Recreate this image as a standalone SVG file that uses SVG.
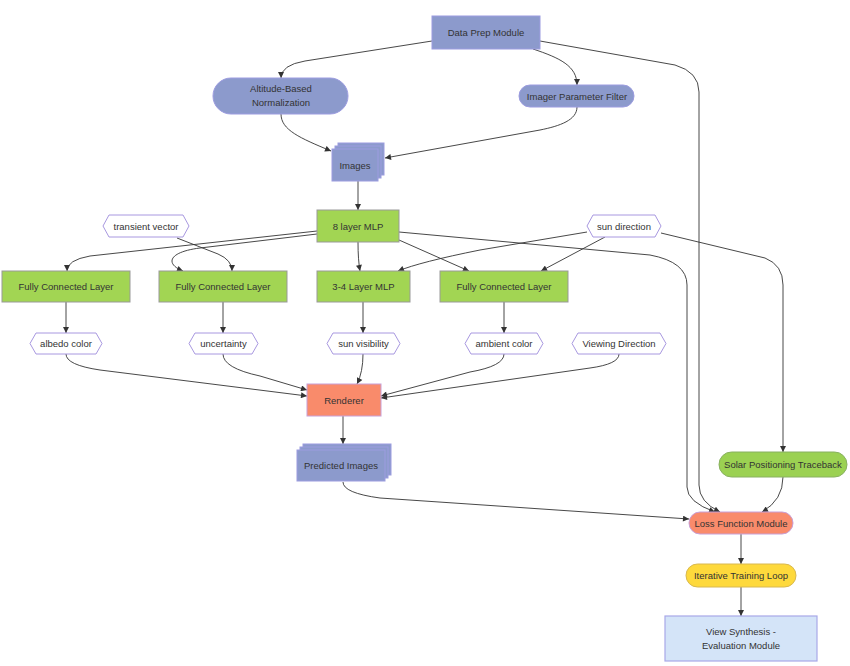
<svg xmlns="http://www.w3.org/2000/svg" width="850" height="666" viewBox="0 0 850 666">
<defs>
<style>
text{font-family:"Liberation Sans","DejaVu Sans",Arial,sans-serif;font-size:9.5px;fill:#333;text-anchor:middle}
.blue{fill:#8c9acc;stroke:#9c9ce0;stroke-width:1}
.green{fill:#a2d553;stroke:#999;stroke-width:1}
.hex{fill:#fff;stroke:#a898e0;stroke-width:1}
.orange{fill:#f98b6b;stroke:#c8a0d8;stroke-width:1}
.lgreen{fill:#9bd152;stroke:#88b060;stroke-width:1}
.yellow{fill:#fed93c;stroke:#d8b850;stroke-width:1}
.lblue{fill:#d4e4f8;stroke:#a8a8e8;stroke-width:1.2}
.e{fill:none;stroke:#333;stroke-width:0.9;marker-end:url(#arr)}
</style>
<marker id="arr" viewBox="0 0 10 10" refX="10" refY="5" markerWidth="7" markerHeight="6" markerUnits="userSpaceOnUse" orient="auto">
<path d="M0,0 L10,5 L0,10 z" fill="#333"/>
</marker>
</defs>
<rect width="850" height="666" fill="#fff"/>
<g id="edges">
<path class="e" d="M432,41 L305,61 Q281,65 281,78"/>
<path class="e" d="M533,49 C560,58 577,66 577,85"/>
<path class="e" d="M540,41 L675,65 Q699,72 699,92 L699,485 Q699,502 720,512"/>
<path class="e" d="M281,114 C281,130 300,138 331,151"/>
<path class="e" d="M577,107 C577,120 560,126 540,130 L385,158"/>
<path class="e" d="M358,181 L358,210"/>
<path class="e" d="M317,231 L90,256 Q67,260 67,271"/>
<path class="e" d="M317,234 L200,248 C168,252 165,264 183,271"/>
<path class="e" d="M177,238 L218,254 Q232,260 232,271"/>
<path class="e" d="M358,242 Q358,260 360,271"/>
<path class="e" d="M399,240 L469,271"/>
<path class="e" d="M399,232 L650,255 Q687,262 687,285 L687,487 Q687,502 715,512"/>
<path class="e" d="M587,232 L480,250 Q420,262 398,271"/>
<path class="e" d="M605,237 L541,271"/>
<path class="e" d="M661,233 L765,258 Q783,265 783,285 L783,452"/>
<path class="e" d="M66,302 L66,333"/>
<path class="e" d="M223,302 L223,333"/>
<path class="e" d="M363,302 L363,333"/>
<path class="e" d="M504,302 L504,333"/>
<path class="e" d="M66,354 Q66,365 100,370 L307,396"/>
<path class="e" d="M223,354 Q223,368 260,376 L307,390"/>
<path class="e" d="M363,354 Q363,372 357,384"/>
<path class="e" d="M504,354 Q504,366 470,372 L381,396"/>
<path class="e" d="M619,354 Q619,364 590,368 L381,398"/>
<path class="e" d="M343,416 L343,444"/>
<path class="e" d="M343,482 Q343,493 380,498 L689,519"/>
<path class="e" d="M783,477 Q783,500 762,512"/>
<path class="e" d="M741,534 L741,564"/>
<path class="e" d="M741,587 L741,616"/>
</g>
<g id="dataprep"><rect class="blue" x="432" y="16" width="108" height="33"/><text x="486" y="36">Data Prep Module</text></g>
<g id="altitude"><rect class="blue" x="213" y="78" width="135" height="36" rx="18"/><text x="281" y="92">Altitude-Based</text><text x="281" y="106">Normalization</text></g>
<g id="imager"><rect class="blue" x="519" y="85" width="115" height="22" rx="11"/><text x="577" y="99.5">Imager Parameter Filter</text></g>
<g id="images"><rect class="blue" x="338" y="143" width="46" height="32"/><rect class="blue" x="335" y="146" width="46" height="32"/><rect class="blue" x="332" y="149" width="46" height="32"/><text x="355" y="168.5">Images</text></g>
<g id="mlp8"><rect class="green" x="317" y="210" width="82" height="32"/><text x="358" y="229.5">8 layer MLP</text></g>
<g id="transient"><polygon class="hex" points="103,226 109,215 183,215 189,226 183,237 109,237"/><text x="146" y="229.5">transient vector</text></g>
<g id="sundir"><polygon class="hex" points="587,226 593,215 655,215 661,226 655,237 593,237"/><text x="624" y="229.5">sun direction</text></g>
<g id="fcl1"><rect class="green" x="2" y="271" width="128" height="31"/><text x="66" y="290">Fully Connected Layer</text></g>
<g id="fcl2"><rect class="green" x="159" y="271" width="128" height="31"/><text x="223" y="290">Fully Connected Layer</text></g>
<g id="mlp34"><rect class="green" x="317" y="271" width="93" height="31"/><text x="363.5" y="290">3-4 Layer MLP</text></g>
<g id="fcl3"><rect class="green" x="440" y="271" width="128" height="31"/><text x="504" y="290">Fully Connected Layer</text></g>
<g id="albedo"><polygon class="hex" points="30,343.5 36,333 96,333 102,343.5 96,354 36,354"/><text x="66" y="347">albedo color</text></g>
<g id="uncertainty"><polygon class="hex" points="189,343.5 195,333 252,333 258,343.5 252,354 195,354"/><text x="223.5" y="347">uncertainty</text></g>
<g id="sunvis"><polygon class="hex" points="327,343.5 333,333 394,333 400,343.5 394,354 333,354"/><text x="363.5" y="347">sun visibility</text></g>
<g id="ambient"><polygon class="hex" points="465,343.5 471,333 537,333 543,343.5 537,354 471,354"/><text x="504" y="347">ambient color</text></g>
<g id="viewing"><polygon class="hex" points="572,343.5 578,333 660,333 666,343.5 660,354 578,354"/><text x="619" y="347">Viewing Direction</text></g>
<g id="renderer"><rect class="orange" x="307" y="384" width="74" height="32"/><text x="344" y="403.5">Renderer</text></g>
<g id="predicted"><rect class="blue" x="303" y="444" width="88" height="31"/><rect class="blue" x="300" y="447" width="88" height="31"/><rect class="blue" x="297" y="450" width="88" height="31"/><text x="341" y="469">Predicted Images</text></g>
<g id="solar"><rect class="lgreen" x="719" y="452" width="128" height="25" rx="12.5"/><text x="783" y="468">Solar Positioning Traceback</text></g>
<g id="loss"><rect class="orange" x="689" y="512" width="104" height="22" rx="11"/><text x="741" y="526.5">Loss Function Module</text></g>
<g id="iterative"><rect class="yellow" x="686" y="564" width="110" height="23" rx="11.5"/><text x="741" y="579">Iterative Training Loop</text></g>
<g id="viewsynth"><rect class="lblue" x="665" y="616" width="152" height="45"/><text x="741" y="635">View Synthesis -</text><text x="741" y="649">Evaluation Module</text></g>
</svg>
